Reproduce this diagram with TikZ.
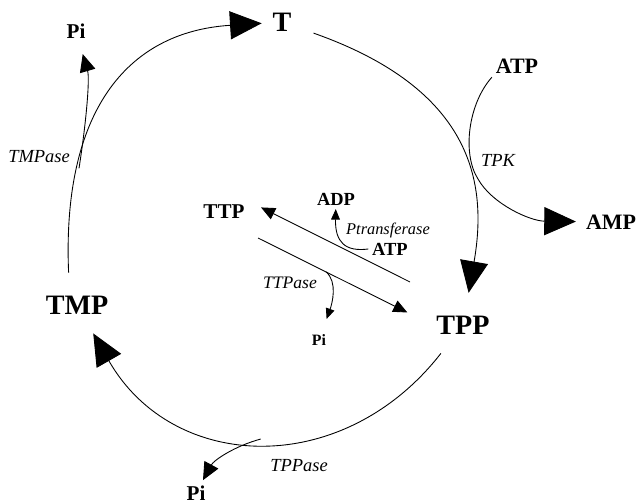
\documentclass[tikz,border=0pt]{standalone}
\usepackage{fontspec}
\setmainfont{Liberation Serif}
\usetikzlibrary{arrows.meta}

\begin{document}
\begin{tikzpicture}[x=0.02cm, y=0.02cm, line width=0.5pt,
  metab/.style={inner sep=2pt, font=\fontsize{#1}{#1}\selectfont\bfseries},
  enzyme/.style={inner sep=1pt, font=\fontsize{#1}{#1}\selectfont\itshape},
  cycle/.style={-{Triangle[length=18pt, width=16pt]}},
  side/.style={-{Triangle[length=10pt, width=9pt]}},
  small/.style={-{Triangle[length=8pt, width=7pt]}},
  tiny/.style={-{Triangle[length=6pt, width=5pt]}}]

  \useasboundingbox (0,0) rectangle (636,504);

  % Metabolites of the Thiamine Cycle
  \node[metab=16] (T)   at (282,482) {T};
  \node[metab=16] (TMP) at (77,199)  {TMP};
  \node[metab=16] (TPP) at (463,179) {TPP};

  % Cofactors and Released Phosphates
  \node[metab=12.5] (ATPtop) at (517,438) {ATP};
  \node[metab=12.5] (AMP)    at (611,282) {AMP};
  \node[metab=12]   (PiTop)  at (76,473)  {Pi};
  \node[metab=12]   (PiBot)  at (196,11)  {Pi};
  \node[metab=12]   (TTP)    at (224,292) {TTP};
  \node[metab=10.5] (ADP)    at (336,305) {ADP};
  \node[metab=10.5] (ATPin)  at (390,255) {ATP};
  \node[metab=9]    (PiMid)  at (319,164) {Pi};

  % Enzyme Labels
  \node[enzyme=10.5] (TMPase) at (39,347)  {TMPase};
  \node[enzyme=10.5] (TPK)    at (498,344) {TPK};
  \node[enzyme=10.5] (TPPase) at (299,38)  {TPPase};
  \node[enzyme=10]   (TTPase) at (290,221) {TTPase};
  \node[enzyme=9.3]  (Ptrans) at (388,274) {Ptransferase};

  % Outer Cycle
  \draw[cycle, shorten <=11pt, shorten >=4pt] (TMP.120) .. controls (62,390) and (125,472) .. (T)
    coordinate[pos=0.27] (tmpa);
  \draw[cycle, shorten <=11pt, shorten >=11pt] (T) .. controls (472,415) and (488,322) .. (TPP);
  \draw[cycle, shorten <=11pt, shorten >=10pt] (TPP) .. controls (343,25) and (173,31) .. (TMP)
    coordinate[pos=0.5] (tppa);

  % Side Branches of the Cycle
  \draw[side, shorten >=7pt] (tmpa) .. controls (86,380) and (90,425) .. (PiTop);
  \draw[cycle, shorten >=3.5pt] (ATPtop.south west) .. controls (468,400) and (462,350) .. (478,325)
    .. controls (492,300) and (530,283) .. (AMP);
  \draw[side, shorten >=1pt] (tppa) .. controls (235,58) and (214,44) .. (PiBot);

  % TTP <-> TPP Exchange
  \coordinate (ttpfrom) at (410,222);
  \coordinate (tppfrom) at (258,266);
  \draw[small, shorten >=8pt] (ttpfrom) -- (TTP.north east);
  \draw[small, shorten >=16pt] (tppfrom) -- (TPP.west) coordinate[pos=0.39] (ttpa);
  \draw[tiny] (ATPin.west) .. controls (345,252) and (335,262) .. (ADP);
  \draw[tiny, shorten >=7pt] (ttpa) .. controls (338,222) and (332,200) .. (PiMid);

\end{tikzpicture}
\end{document}
